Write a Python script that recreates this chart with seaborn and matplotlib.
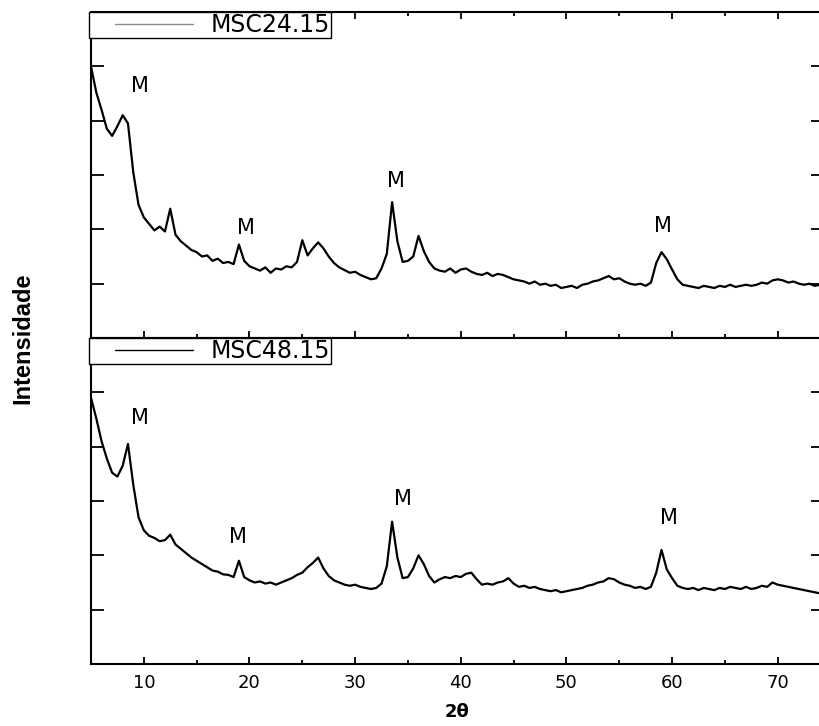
import numpy as np
import pandas as pd
import matplotlib
matplotlib.use("Agg")
import matplotlib.pyplot as plt
import seaborn as sns
from matplotlib.lines import Line2D
from matplotlib.legend_handler import HandlerLine2D
from matplotlib.ticker import MultipleLocator

dois_theta = np.arange(5.0, 74.01, 0.5)

msc24 = [500, 452, 420, 385, 372, 390, 410, 395, 305, 245,
         222, 210, 198, 205, 196, 238, 190, 178, 170, 162,
         158, 150, 152, 142, 146, 138, 140, 136, 172, 142,
         132, 128, 124, 130, 120, 128, 126, 132, 130, 140,
         180, 152, 165, 176, 165, 150, 138, 130, 125, 120,
         122, 116, 112, 108, 110, 128, 155, 250, 178, 140,
         142, 150, 188, 160, 140, 128, 124, 122, 128, 120,
         126, 128, 122, 118, 116, 120, 114, 118, 116, 112,
         108, 106, 104, 100, 104, 98, 100, 96, 98, 92,
         94, 96, 92, 98, 100, 104, 106, 110, 114, 108,
         110, 104, 100, 98, 100, 96, 102, 138, 158, 145,
         126, 108, 98, 96, 94, 92, 96, 94, 92, 96,
         94, 98, 94, 96, 98, 96, 98, 102, 100, 106,
         108, 106, 102, 104, 100, 98, 100, 96, 98]

msc48 = [490, 452, 410, 378, 352, 345, 365, 405, 330, 270,
         246, 236, 232, 226, 228, 238, 220, 212, 204, 196,
         190, 184, 178, 172, 170, 165, 164, 160, 190, 160,
         154, 150, 152, 148, 150, 146, 150, 154, 158, 164,
         168, 178, 186, 196, 176, 162, 154, 150, 146, 144,
         146, 142, 140, 138, 140, 148, 180, 262, 196, 158,
         160, 176, 200, 184, 162, 150, 156, 160, 158, 162,
         160, 166, 168, 156, 146, 148, 146, 150, 152, 158,
         148, 142, 144, 140, 142, 138, 136, 134, 136, 132,
         134, 136, 138, 140, 144, 146, 150, 152, 158, 156,
         150, 146, 144, 140, 142, 138, 142, 168, 210, 174,
         158, 144, 140, 138, 140, 136, 140, 138, 136, 140,
         138, 142, 140, 138, 142, 138, 140, 144, 142, 150,
         146, 144, 142, 140, 138, 136, 134, 132, 130]

amostras = ["MSC24.15", "MSC48.15"]
cor_legenda = ["#8c8c8c", "black"]

# posicoes dos rotulos "M" (2theta, intensidade)
m_24_x = [9.6, 19.7, 33.9, 59.1]
m_24_y = [464, 203, 289, 206]
m_48_x = [9.6, 18.9, 34.5, 59.7]
m_48_y = [453, 234, 304, 269]

df = pd.DataFrame({"2theta": dois_theta, "MSC24.15": msc24, "MSC48.15": msc48})

sns.set_theme(style="ticks")
plt.rcParams["font.family"] = ["DejaVu Sans"]
plt.rcParams["text.color"] = "black"
plt.rcParams["axes.labelcolor"] = "black"
plt.rcParams["xtick.color"] = "black"
plt.rcParams["ytick.color"] = "black"

fig = plt.figure(figsize=(8.19, 7.26), dpi=100)
W, H = 819, 726
ax_top = fig.add_axes([91 / W, 388 / H, 733 / W, 326 / H])
ax_bot = fig.add_axes([91 / W, 62 / H, 733 / W, 326 / H])

painel = [(ax_top, amostras[0], m_24_x, m_24_y, cor_legenda[0]),
          (ax_bot, amostras[1], m_48_x, m_48_y, cor_legenda[1])]

for ax, nome, mx, my, cl in painel:
    sns.lineplot(data=df, x="2theta", y=nome, ax=ax, color="black",
                 linewidth=1.6, legend=False)
    ax.set_xlim(5, 5 + 733 / 10.565)
    ax.set_ylim(0, 600)
    ax.set_yticks([100, 200, 300, 400, 500])
    ax.set_yticklabels([])
    ax.yaxis.set_ticks_position("both")
    ax.xaxis.set_major_locator(MultipleLocator(10))
    ax.xaxis.set_minor_locator(MultipleLocator(5))
    ax.tick_params(axis="y", which="major", direction="in", length=9.5,
                   width=1.3, color="black", left=True, right=True)
    ax.tick_params(axis="x", which="major", direction="in", length=5,
                   width=1.3, color="black", labelsize=13, pad=7)
    ax.tick_params(axis="x", which="minor", direction="in", length=3,
                   width=1.3, color="black")
    for s in ax.spines.values():
        s.set_visible(True)
        s.set_color("black")
        s.set_linewidth(1.5)
    ax.set_xlabel("")
    ax.set_ylabel("")

    for x, y in zip(mx, my):
        ax.text(x, y, "M", ha="center", va="center", fontsize=15, color="black")

    h = Line2D([], [], color=cl, linewidth=1.0)
    leg = ax.legend(handles=[h], labels=[nome], loc="upper left",
                    bbox_to_anchor=(-0.003, 1.0), borderaxespad=0,
                    fontsize=17, frameon=True, fancybox=False,
                    edgecolor="black", framealpha=1, borderpad=0.05,
                    handlelength=5.4, handletextpad=-0.3,
                    handler_map={Line2D: HandlerLine2D(numpoints=2, marker_pad=1.05)})
    leg.get_frame().set_linewidth(1.0)

# painel de cima: ticks em cima e embaixo, sem rotulos
ax_top.tick_params(axis="x", which="both", top=True, bottom=True, labelbottom=False)
ax_bot.tick_params(axis="x", which="both", top=False, bottom=True, labelbottom=True)

ax_bot.set_xlabel("2θ", fontsize=13, fontweight="bold", labelpad=8)

fig.text(23 / W, 1 - 338 / H, "Intensidade", rotation=90, ha="center", va="center",
         fontsize=17, fontweight="bold",
         family=["Liberation Sans", "DejaVu Sans"])

fig.savefig("out.png", dpi=100)
